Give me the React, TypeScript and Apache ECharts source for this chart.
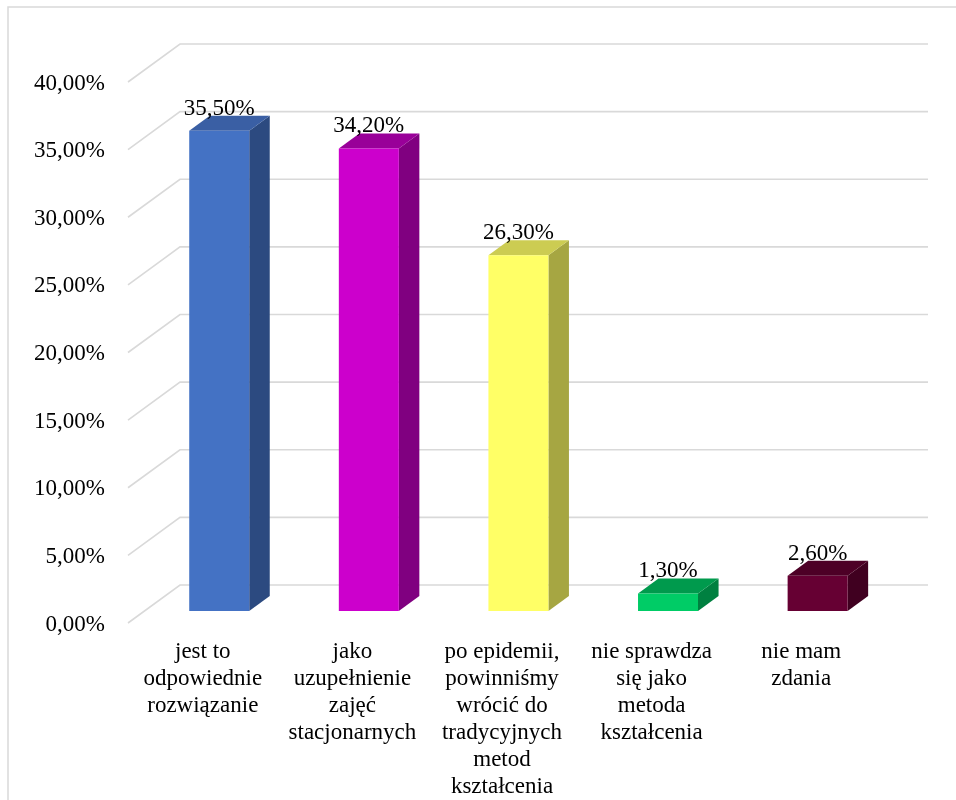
import React, { useEffect, useRef } from "react";
import * as echarts from "echarts";

const categories = [
  "jest to\nodpowiednie\nrozwiązanie",
  "jako\nuzupełnienie\nzajęć\nstacjonarnych",
  "po epidemii,\npowinniśmy\nwrócić do\ntradycyjnych\nmetod\nkształcenia",
  "nie sprawdza\nsię jako\nmetoda\nkształcenia",
  "nie mam\nzdania",
];
const values = [35.5, 34.2, 26.3, 1.3, 2.6];
const valueLabels = ["35,50%", "34,20%", "26,30%", "1,30%", "2,60%"];
const yTicks = [0, 5, 10, 15, 20, 25, 30, 35, 40];

const frontColors = ["#4472C4", "#CC00CC", "#FFFF66", "#00CC66", "#660033"];
const topColors = ["#3A5FA4", "#990099", "#CCCC52", "#009A4D", "#4D0026"];
const sideColors = ["#2C4A80", "#800080", "#A6A642", "#008040", "#400020"];

const FONT = "Liberation Serif";
const DEPTH_DX = 52;
const DEPTH_DY = -38;
const BAR_W = 60;
const BAR_OFF_DY = -12;
const BAR_DEPTH_DY = -15;

export default function App() {
  const ref = useRef<HTMLDivElement>(null);
  useEffect(() => {
    if (!ref.current) return;
    const chart = echarts.init(ref.current, null, { renderer: "svg" });
    const ratio = DEPTH_DX / -DEPTH_DY;
    chart.setOption({
      animation: false,
      grid: { left: 128, top: 82, width: 748, height: 541 },
      xAxis: {
        type: "category",
        data: categories,
        axisLine: { show: false },
        axisTick: { show: false },
        splitLine: { show: false },
        axisLabel: {
          interval: 0,
          margin: 14,
          fontFamily: "Liberation Serif",
          fontSize: 23,
          lineHeight: 27,
          color: "#000",
        },
      },
      yAxis: {
        type: "value",
        min: 0,
        max: 40,
        interval: 5,
        axisLine: { show: false },
        axisTick: { show: false },
        splitLine: { show: false },
        axisLabel: {
          margin: 23,
          fontFamily: "Liberation Serif",
          fontSize: 23,
          color: "#000",
          formatter: (v: number) => v.toFixed(2).replace(".", ",") + "%",
        },
      },
      graphic: [
        {
          type: "rect",
          shape: { x: 8, y: 7, width: 980, height: 900 },
          style: { fill: "none", stroke: "#d9d9d9", lineWidth: 1.5 },
          silent: true,
        },
      ],
      series: [
        {
          type: "custom",
          z: 1,
          data: yTicks.map((t) => [0, t]),
          renderItem: (params: any, api: any) => {
            const cs = params.coordSys;
            const p = api.coord([0, api.value(1)]);
            const y = p[1];
            return {
              type: "polyline",
              shape: {
                points: [
                  [cs.x, y],
                  [cs.x + DEPTH_DX, y + DEPTH_DY],
                  [cs.x + cs.width + DEPTH_DX, y + DEPTH_DY],
                ],
              },
              style: { fill: "none", stroke: "#d9d9d9", lineWidth: 1.6 },
            };
          },
        },
        {
          type: "custom",
          z: 2,
          data: values.map((v, i) => [i, v]),
          renderItem: (params: any, api: any) => {
            const i = api.value(0);
            const v = api.value(1);
            const base = api.coord([i, 0]);
            const top = api.coord([i, v]);
            const offX = -BAR_OFF_DY * ratio;
            const dX = -BAR_DEPTH_DY * ratio;
            const x = base[0] + offX - BAR_W / 2;
            const yb = base[1] + BAR_OFF_DY;
            const yt = top[1] + BAR_OFF_DY;
            return {
              type: "group",
              children: [
                {
                  type: "polygon",
                  shape: {
                    points: [
                      [x + BAR_W, yt],
                      [x + BAR_W + dX, yt + BAR_DEPTH_DY],
                      [x + BAR_W + dX, yb + BAR_DEPTH_DY],
                      [x + BAR_W, yb],
                    ],
                  },
                  style: { fill: sideColors[i] },
                },
                {
                  type: "polygon",
                  shape: {
                    points: [
                      [x, yt],
                      [x + dX, yt + BAR_DEPTH_DY],
                      [x + BAR_W + dX, yt + BAR_DEPTH_DY],
                      [x + BAR_W, yt],
                    ],
                  },
                  style: { fill: topColors[i] },
                },
                {
                  type: "rect",
                  shape: { x: x, y: yt, width: BAR_W, height: yb - yt },
                  style: { fill: frontColors[i] },
                },
                {
                  type: "text",
                  x: x + BAR_W / 2,
                  y: yt + BAR_DEPTH_DY + 3,
                  style: {
                    text: valueLabels[i],
                    fontFamily: "Liberation Serif",
                    fontSize: 23,
                    fill: "#000",
                    align: "center",
                    verticalAlign: "bottom",
                  },
                },
              ],
            };
          },
        },
      ],
    });
    return () => chart.dispose();
  }, []);
  return (
    <div
      ref={ref}
      style={{ position: "fixed", left: 0, top: 0, width: 956, height: 800 }}
    />
  );
}
